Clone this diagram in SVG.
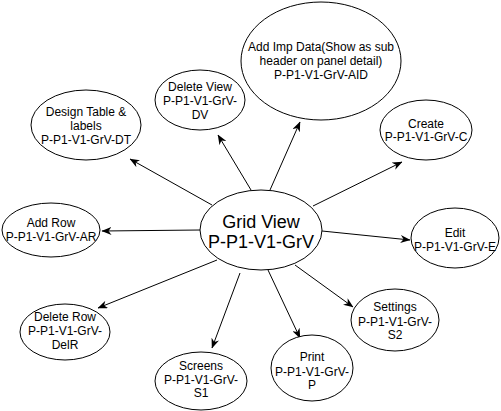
<svg xmlns="http://www.w3.org/2000/svg" width="501" height="411" viewBox="0 0 501 411">
<style>
.n ellipse{fill:#fff;stroke:#000;stroke-width:1}
.n text{font-family:"Liberation Sans",Arial,Helvetica,sans-serif;font-size:12px;fill:#000;text-anchor:middle}
#center text{font-size:18px}
.c line{stroke:#000;stroke-width:1;fill:none;marker-end:url(#arr)}
</style>
<defs>
<marker id="arr" viewBox="0 0 10 8" markerWidth="10" markerHeight="8" refX="9.5" refY="4" orient="auto" markerUnits="userSpaceOnUse">
<path d="M0,0 L10,4 L0,8 L3,4 Z" fill="#000"/>
</marker>
</defs>
<rect width="501" height="411" fill="#fff"/>
<g class="c" id="connectors">
<line x1="212" y1="205" x2="130" y2="159"/>
<line x1="251" y1="190" x2="218" y2="135"/>
<line x1="270" y1="190" x2="300" y2="122"/>
<line x1="313" y1="206" x2="402" y2="162"/>
<line x1="322" y1="231" x2="410" y2="240"/>
<line x1="295" y1="265" x2="353" y2="307"/>
<line x1="268" y1="270" x2="300" y2="338"/>
<line x1="240" y1="273" x2="212" y2="348"/>
<line x1="217" y1="260" x2="98" y2="308"/>
<line x1="200" y1="230" x2="102" y2="231"/>
</g>
<g class="n" id="center">
<ellipse cx="261" cy="230" rx="61" ry="40"/>
<text x="261" y="228">Grid View</text>
<text x="261" y="248">P-P1-V1-GrV</text>
</g>
<g class="n" id="aid">
<ellipse cx="321" cy="61" rx="80" ry="59"/>
<text x="321" y="51">Add Imp Data(Show as sub</text>
<text x="321" y="65">header on panel detail)</text>
<text x="321" y="79">P-P1-V1-GrV-AID</text>
</g>
<g class="n" id="dv">
<ellipse cx="200" cy="100" rx="45" ry="30"/>
<text x="200" y="91">Delete View</text>
<text x="200" y="105">P-P1-V1-GrV-</text>
<text x="200" y="119">DV</text>
</g>
<g class="n" id="dt">
<ellipse cx="86" cy="125" rx="55" ry="35"/>
<text x="86" y="116">Design Table &amp;</text>
<text x="86" y="130">labels</text>
<text x="86" y="144">P-P1-V1-GrV-DT</text>
</g>
<g class="n" id="c">
<ellipse cx="426" cy="130" rx="46" ry="30"/>
<text x="426" y="128">Create</text>
<text x="426" y="141">P-P1-V1-GrV-C</text>
</g>
<g class="n" id="e">
<ellipse cx="455" cy="238" rx="44" ry="30"/>
<text x="455" y="237">Edit</text>
<text x="455" y="251">P-P1-V1-GrV-E</text>
</g>
<g class="n" id="s2">
<ellipse cx="395" cy="320" rx="44" ry="31"/>
<text x="395" y="311">Settings</text>
<text x="395" y="326">P-P1-V1-GrV-</text>
<text x="395" y="339">S2</text>
</g>
<g class="n" id="p">
<ellipse cx="312" cy="368" rx="41" ry="33"/>
<text x="312" y="361">Print</text>
<text x="312" y="376">P-P1-V1-GrV-</text>
<text x="312" y="389">P</text>
</g>
<g class="n" id="s1">
<ellipse cx="201" cy="381" rx="46" ry="29"/>
<text x="201" y="370">Screens</text>
<text x="201" y="384">P-P1-V1-GrV-</text>
<text x="201" y="397">S1</text>
</g>
<g class="n" id="delr">
<ellipse cx="65" cy="332" rx="45" ry="28"/>
<text x="65" y="321">Delete Row</text>
<text x="65" y="335">P-P1-V1-GrV-</text>
<text x="65" y="349">DelR</text>
</g>
<g class="n" id="ar">
<ellipse cx="51" cy="230" rx="49" ry="27"/>
<text x="51" y="227">Add Row</text>
<text x="51" y="241">P-P1-V1-GrV-AR</text>
</g>
</svg>
